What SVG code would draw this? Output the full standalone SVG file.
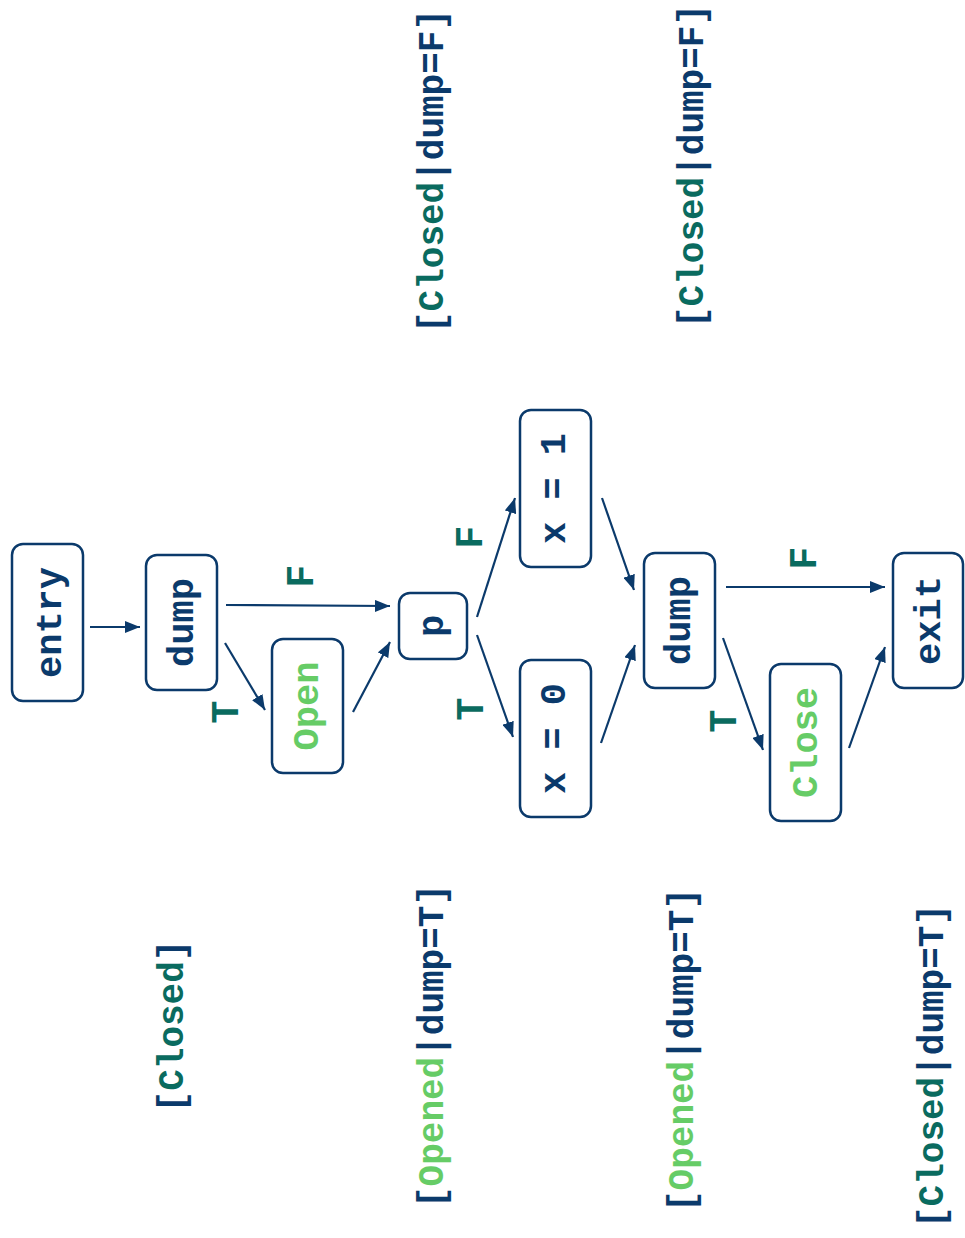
<svg xmlns="http://www.w3.org/2000/svg" width="965" height="1238" viewBox="0 0 965 1238">
  <style>
    .box { fill: #ffffff; stroke: #0b3a6b; stroke-width: 2.5; }
    .t { font-family: "Liberation Mono", "Courier New", monospace; font-weight: bold; font-size: 37px; text-anchor: middle; }
    .navy { fill: #0b3a6b; }
    .green { fill: #66cc66; }
    .teal { fill: #0a6b5f; }
    .edge { stroke: #0b3a6b; stroke-width: 2.2; fill: none; marker-end: url(#arrow); }
    .lbl { font-family: "Liberation Mono", "Courier New", monospace; font-weight: bold; font-size: 38px; text-anchor: middle; fill: #0a6b5f; }
    .state { font-family: "Liberation Mono", "Courier New", monospace; font-weight: bold; font-size: 36px; text-anchor: middle; }
  </style>
  <defs>
    <marker id="arrow" markerUnits="userSpaceOnUse" markerWidth="16" markerHeight="12" refX="15" refY="6" orient="auto">
      <path d="M0,0 L15,6 L0,12 z" fill="#0b3a6b"/>
    </marker>
  </defs>
  <rect width="965" height="1238" fill="#ffffff"/>

  <!-- connectors -->
  <g id="edges">
    <line class="edge" x1="90" y1="627" x2="140" y2="627"/>
    <line class="edge" x1="226" y1="605" x2="390" y2="606"/>
    <line class="edge" x1="225" y1="643" x2="265" y2="710"/>
    <line class="edge" x1="353" y1="712" x2="390" y2="642"/>
    <line class="edge" x1="477" y1="617" x2="515" y2="498"/>
    <line class="edge" x1="477" y1="635" x2="513" y2="737"/>
    <line class="edge" x1="602" y1="498" x2="634" y2="590"/>
    <line class="edge" x1="601" y1="743" x2="635" y2="645"/>
    <line class="edge" x1="726" y1="587" x2="885" y2="587"/>
    <line class="edge" x1="723" y1="638" x2="763" y2="750"/>
    <line class="edge" x1="849" y1="748" x2="885" y2="647"/>
    <!-- branch labels -->
    <text class="lbl" transform="translate(313,576) rotate(-90)">F</text>
    <text class="lbl" transform="translate(238,712) rotate(-90)">T</text>
    <text class="lbl" transform="translate(482,537) rotate(-90)">F</text>
    <text class="lbl" transform="translate(483,709) rotate(-90)">T</text>
    <text class="lbl" transform="translate(816,558) rotate(-90)">F</text>
    <text class="lbl" transform="translate(736,721) rotate(-90)">T</text>
  </g>

  <!-- nodes -->
  <g id="entry">
    <rect class="box" x="12" y="544" width="71" height="157" rx="11"/>
    <text class="t navy" transform="translate(61,622.5) rotate(-90)">entry</text>
  </g>
  <g id="dump1">
    <rect class="box" x="146" y="555" width="71" height="135" rx="11"/>
    <text class="t navy" transform="translate(193,622.5) rotate(-90)">dump</text>
  </g>
  <g id="open">
    <rect class="box" x="272" y="639" width="71" height="134" rx="11"/>
    <text class="t green" transform="translate(318,706) rotate(-90)">Open</text>
  </g>
  <g id="p">
    <rect class="box" x="399" y="593" width="68" height="66" rx="11"/>
    <text class="t navy" transform="translate(443,626) rotate(-90)">p</text>
  </g>
  <g id="x1">
    <rect class="box" x="520" y="410" width="71" height="157" rx="11"/>
    <text class="t navy" transform="translate(565,488.5) rotate(-90)">x = 1</text>
  </g>
  <g id="x0">
    <rect class="box" x="520" y="660" width="71" height="157" rx="11"/>
    <text class="t navy" transform="translate(565,738.5) rotate(-90)">x = 0</text>
  </g>
  <g id="dump2">
    <rect class="box" x="644" y="553" width="71" height="135" rx="11"/>
    <text class="t navy" transform="translate(690,620.5) rotate(-90)">dump</text>
  </g>
  <g id="close">
    <rect class="box" x="770" y="664" width="71" height="157" rx="11"/>
    <text class="t green" transform="translate(817,742.5) rotate(-90)">Close</text>
  </g>
  <g id="exit">
    <rect class="box" x="893" y="553" width="70" height="135" rx="11"/>
    <text class="t navy" transform="translate(940,620.5) rotate(-90)">exit</text>
  </g>

  <!-- state annotations -->
  <g id="states">
    <text class="state" transform="translate(183,1026) rotate(-90)"><tspan class="navy">[</tspan><tspan class="teal">Closed</tspan><tspan class="navy">]</tspan></text>
    <text class="state" transform="translate(443,171) rotate(-90)"><tspan class="navy">[</tspan><tspan class="teal">Closed</tspan><tspan class="navy">|dump=F]</tspan></text>
    <text class="state" transform="translate(703,166) rotate(-90)"><tspan class="navy">[</tspan><tspan class="teal">Closed</tspan><tspan class="navy">|dump=F]</tspan></text>
    <text class="state" transform="translate(443,1046) rotate(-90)"><tspan class="navy">[</tspan><tspan class="green">Opened</tspan><tspan class="navy">|dump=T]</tspan></text>
    <text class="state" transform="translate(693,1050) rotate(-90)"><tspan class="navy">[</tspan><tspan class="green">Opened</tspan><tspan class="navy">|dump=T]</tspan></text>
    <text class="state" transform="translate(943,1066) rotate(-90)"><tspan class="navy">[</tspan><tspan class="teal">Closed</tspan><tspan class="navy">|dump=T]</tspan></text>
  </g>
</svg>
